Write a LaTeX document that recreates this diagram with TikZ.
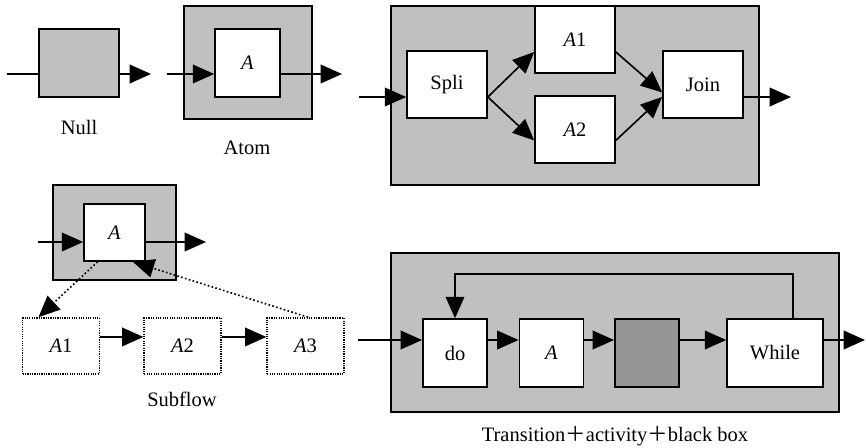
\documentclass[tikz,border=0pt]{standalone}
\usepackage{fontspec}
\setmainfont{Liberation Serif}
\newfontfamily\cjk{Noto Sans CJK SC}
\usetikzlibrary{arrows.meta}
\definecolor{shellgray}{HTML}{C0C0C0}
\definecolor{blackgray}{HTML}{969696}

\begin{document}
\begin{tikzpicture}[x=0.03cm, y=-0.03cm, line width=1.4pt,
    font=\fontsize{17.5}{20}\selectfont,
    shell/.style={draw, fill=shellgray, inner sep=0pt},
    box/.style={draw, fill=white, inner sep=0pt, minimum width=2.4cm,
      minimum height=2.01cm},
    subbox/.style={draw, dash pattern=on 1pt off 1pt, inner sep=0pt,
      minimum width=2.3cm, minimum height=1.68cm},
    loopbox/.style={draw, fill=white, inner sep=0pt, minimum width=1.93cm,
      minimum height=2.04cm},
    arr/.style={-{Triangle[length=0.64cm, width=0.56cm]}}]
\useasboundingbox (0,0) rectangle (866,448);

% Null
\path (79,63) node (null) [shell, minimum width=2.4cm,
    minimum height=2.04cm] {};
\path (79,127) node (nulllabel) {Null};
\coordinate (nullin) at (7,74);
\coordinate (nullout) at (151,74);
\draw (nullin) -- (nullin -| null.west);
\draw [arr] (nullout -| null.east) -- (nullout);

% Atom
\path (248,62.5) node (atom) [shell, minimum width=3.84cm,
    minimum height=3.39cm] {};
\path (247.5,63) node (atomA) [box, minimum width=1.95cm,
    minimum height=2.04cm] {\textit{A}};
\path (247,148) node (atomlabel) {Atom};
\coordinate (atomin) at (167,74);
\coordinate (atomout) at (342,74);
\draw [arr] (atomin) -- (atomin -| atomA.west);
\draw [arr] (atomin -| atomA.east) -- (atomout);

% split / join
\path (575,95.5) node (par) [shell, minimum width=11.04cm,
    minimum height=5.37cm] {};
\path (447,84.5) node (spli) [box] {Spli};
\path (575,39.5) node (parA1) [box] {\textit{A}1};
\path (575,129.5) node (parA2) [box] {\textit{A}2};
\path (703,84.5) node (join) [box] {Join};
\coordinate (parin) at (359,97);
\coordinate (parout) at (791,97);
\draw [arr] (parin) -- (parin -| spli.west);
\draw [arr] (parin -| join.east) -- (parout);
\draw [arr] (spli.-17) -- (parA1.197);
\draw [arr] (spli.-17) -- (parA2.195);
\draw [arr] (parA1.-17) -- (join.191);
\draw [arr] (parA2.-15) -- (join.197);

% Subflow
\path (114.5,232.5) node (sub) [shell, minimum width=3.69cm,
    minimum height=2.85cm] {};
\path (114.5,232.5) node (subA) [box, minimum width=1.83cm,
    minimum height=1.71cm] {\textit{A}};
\path (61,346) node (subA1) [subbox] {\textit{A}1};
\path (182.5,346) node (subA2) [subbox] {\textit{A}2};
\path (305.5,346) node (subA3) [subbox] {\textit{A}3};
\path (182,399) node (sublabel) {Subflow};
\coordinate (subin) at (38,242);
\coordinate (subout) at (206,242);
\draw [arr] (subin) -- (subin -| subA.west);
\draw [arr] (subin -| subA.east) -- (subout);
\draw [arr] (subA1.13) -- (subA2.167);
\draw [arr] (subA2.13) -- (subA3.167);
\draw [arr, dotted] (subA.-120) -- (subA1.128);
\draw [arr, dotted] (subA3.85) -- (subA.-58);

% do ... while
\path (615,332.5) node (loop) [shell, minimum width=13.44cm,
    minimum height=4.77cm] {};
\path (455,353) node (do) [loopbox] {do};
\path (551.5,353) node (loopA) [loopbox] {\textit{A}};
\path (647,353) node (blackbox) [loopbox, fill=blackgray] {};
\path (775,353) node (while) [loopbox, minimum width=2.88cm] {While};
\path (615,436) node (looplabel) [inner sep=1pt]
  {Transition{\cjk ＋}activity{\cjk ＋}black box};
\coordinate (loopin) at (358,340);
\coordinate (loopout) at (865,340);
\draw [arr] (loopin) -- (loopin -| do.west);
\draw [arr] (loopin -| do.east) -- (loopin -| loopA.west);
\draw [arr] (loopin -| loopA.east) -- (loopin -| blackbox.west);
\draw [arr] (loopin -| blackbox.east) -- (loopin -| while.west);
\draw [arr] (loopin -| while.east) -- (loopout);
\draw [arr] (while.63) -- ++(0,-44) -| (do.north);

\end{tikzpicture}
\end{document}
